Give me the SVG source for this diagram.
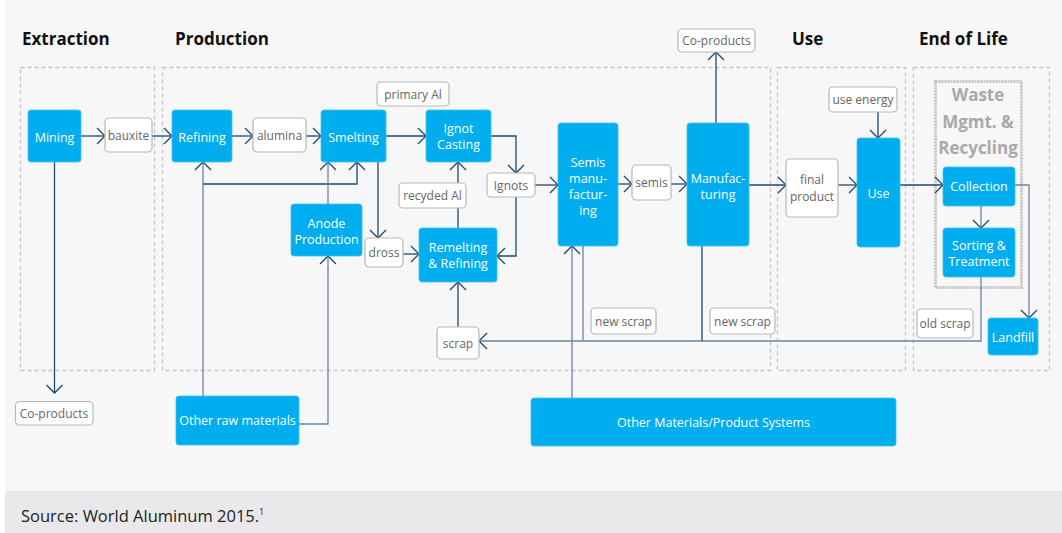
<svg xmlns="http://www.w3.org/2000/svg" width="1062" height="533" viewBox="0 0 1062 533">
<defs>
<marker id="a" viewBox="0 0 10 18" markerWidth="10" markerHeight="18" refX="9" refY="9" orient="auto" markerUnits="userSpaceOnUse">
<path d="M1,1 L9,9 L1,17" fill="none" stroke="#1e4a70" stroke-width="1.3"/>
</marker>
<style>
.hd{font-family:"Open Sans","Liberation Sans",sans-serif;font-weight:700;font-size:17px;fill:#111}
.zone{fill:none;stroke:#c5c5c5;stroke-width:1.3;stroke-dasharray:4 3}
.node rect{fill:#00aeef;stroke:#3cc0f0;stroke-width:0.8}
.node text{font-family:"Open Sans","Liberation Sans",sans-serif;font-size:12.5px;fill:#fff;text-anchor:middle}
.lbl rect{fill:#fff;stroke:#b8b8b8;stroke-width:1.2}
.lbl text{font-family:"Open Sans","Liberation Sans",sans-serif;font-size:12px;fill:#666;text-anchor:middle}
.c path{fill:none;stroke:#1e4a70;stroke-width:1.3}
.c path.l{stroke:#6a87a3}
</style>
</defs>
<rect x="0" y="0" width="1062" height="533" fill="#ffffff"/>
<rect x="5" y="0" width="1057" height="491" fill="#f7f7f7"/>
<rect x="5" y="491" width="1057" height="42" fill="#e9e9eb"/>
<text x="21" y="522" font-family="Open Sans, Liberation Sans, sans-serif" font-size="16.5" fill="#222">Source: World Aluminum 2015.<tspan font-size="9" dy="-7">1</tspan></text>

<g id="headings">
<text class="hd" x="22" y="45">Extraction</text>
<text class="hd" x="175" y="45">Production</text>
<text class="hd" x="792" y="45">Use</text>
<text class="hd" x="919" y="45">End of Life</text>
</g>

<g id="zones">
<rect class="zone" x="20.5" y="67.5" width="134" height="303"/>
<rect class="zone" x="162.5" y="67.5" width="608" height="303"/>
<rect class="zone" x="777.5" y="67.5" width="128" height="303"/>
<rect class="zone" x="913.5" y="67.5" width="136" height="303"/>
</g>

<g id="waste-mgmt">
<rect x="935.5" y="81.5" width="86" height="206" fill="none" stroke="#c4c4c4" stroke-width="3" stroke-dasharray="2 1"/>
<text font-family="Open Sans, Liberation Sans, sans-serif" font-weight="700" font-size="17" fill="#a9a9a9" text-anchor="middle">
<tspan x="978" y="101">Waste</tspan><tspan x="978" y="128">Mgmt. &amp;</tspan><tspan x="978" y="154">Recycling</tspan></text>
</g>

<g class="c" id="connectors">
<path d="M81,136 H105" marker-end="url(#a)"/>
<path d="M152,136 H172" marker-end="url(#a)"/>
<path d="M232,136 H253" marker-end="url(#a)"/>
<path d="M306,136 H321" marker-end="url(#a)"/>
<path d="M386,136 H426" marker-end="url(#a)"/>
<path d="M54.5,162 V393" marker-end="url(#a)"/>
<path d="M491,136 H516 V173" marker-end="url(#a)"/>
<path d="M535,185 H558" marker-end="url(#a)"/>
<path d="M516,197 V256 H497" marker-end="url(#a)"/>
<path d="M458,228 V208"/>
<path d="M458,183 V162" marker-end="url(#a)"/>
<path d="M378,162 V238" marker-end="url(#a)"/>
<path d="M403,254 H419" marker-end="url(#a)"/>
<path d="M458,327 V282" marker-end="url(#a)"/>
<path class="l" d="M981,277 V341 H479" marker-end="url(#a)"/>
<path class="l" d="M583,246 V341"/>
<path d="M702,246 V341"/>
<path class="l" d="M572,398 V246" marker-end="url(#a)"/>
<path d="M618,184 H632" marker-end="url(#a)"/>
<path d="M671,184 H687" marker-end="url(#a)"/>
<path d="M749,185 H786" marker-end="url(#a)"/>
<path d="M838,185 H857" marker-end="url(#a)"/>
<path d="M900,185 H943" marker-end="url(#a)"/>
<path d="M878,112 V138" marker-end="url(#a)"/>
<path d="M716,123 V52" marker-end="url(#a)"/>
<path class="l" d="M981,206 V228" marker-end="url(#a)"/>
<path class="l" d="M1015,185 H1029 V318" marker-end="url(#a)"/>
<path class="l" d="M203,396 V162" marker-end="url(#a)"/>
<path d="M203,184 H357 V162" marker-end="url(#a)"/>
<path class="l" d="M328,204 V162" marker-end="url(#a)"/>
<path class="l" d="M299,424 H328 V256" marker-end="url(#a)"/>
</g>

<g class="node" id="mining"><rect x="28" y="110" width="53" height="52" rx="3"/><text x="54.5" y="141.5">Mining</text></g>
<g class="node" id="refining"><rect x="172" y="110" width="60" height="52" rx="3"/><text x="202" y="141.5">Refining</text></g>
<g class="node" id="smelting"><rect x="321" y="110" width="65" height="52" rx="3"/><text x="353.5" y="141.5">Smelting</text></g>
<g class="node" id="ignot-casting"><rect x="426" y="110" width="65" height="52" rx="3"/><text x="458.5" y="132.5">Ignot</text><text x="458.5" y="148.5">Casting</text></g>
<g class="node" id="anode"><rect x="291" y="204" width="71" height="52" rx="3"/><text x="326.5" y="227.5">Anode</text><text x="326.5" y="243.5">Production</text></g>
<g class="node" id="remelting"><rect x="419" y="228" width="78" height="54" rx="3"/><text x="458" y="251.5">Remelting</text><text x="458" y="267.5">&amp; Refining</text></g>
<g class="node" id="semis-mfg"><rect x="558" y="123" width="60" height="123" rx="3"/><text x="588" y="166.5">Semis</text><text x="588" y="182.5">manu-</text><text x="588" y="198.5">factur-</text><text x="588" y="214.5">ing</text></g>
<g class="node" id="manufacturing"><rect x="687" y="123" width="62" height="123" rx="3"/><text x="718" y="182.5">Manufac-</text><text x="718" y="198.5">turing</text></g>
<g class="node" id="use"><rect x="857" y="138" width="43" height="109" rx="3"/><text x="878.5" y="197.5">Use</text></g>
<g class="node" id="collection"><rect x="943" y="167" width="72" height="39" rx="3"/><text x="979" y="191">Collection</text></g>
<g class="node" id="sorting"><rect x="943" y="228" width="72" height="49" rx="3"/><text x="979" y="249.5">Sorting &amp;</text><text x="979" y="266">Treatment</text></g>
<g class="node" id="landfill"><rect x="988" y="318" width="50" height="37" rx="3"/><text x="1013" y="341.5">Landfill</text></g>
<g class="node" id="other-raw"><rect x="176" y="396" width="123" height="49" rx="3"/><text x="237.5" y="425">Other raw materials</text></g>
<g class="node" id="other-systems"><rect x="531" y="398" width="365" height="48" rx="3"/><text x="713.5" y="426.5">Other Materials/Product Systems</text></g>

<g class="lbl" id="bauxite"><rect x="105" y="118" width="47" height="34" rx="4"/><text x="128.5" y="139.5">bauxite</text></g>
<g class="lbl" id="alumina"><rect x="253" y="118" width="53" height="34" rx="4"/><text x="279.5" y="139.5">alumina</text></g>
<g class="lbl" id="primary-al"><rect x="377" y="82" width="72" height="24" rx="4"/><text x="413" y="98.5">primary Al</text></g>
<g class="lbl" id="coproducts-top"><rect x="678" y="29" width="77" height="23" rx="4"/><text x="716.5" y="45">Co-products</text></g>
<g class="lbl" id="ignots"><rect x="487" y="173" width="48" height="24" rx="4"/><text x="511" y="189.5">Ignots</text></g>
<g class="lbl" id="recycled-al"><rect x="399" y="183" width="67" height="25" rx="4"/><text x="432.5" y="200">recyded Al</text></g>
<g class="lbl" id="dross"><rect x="365" y="238" width="38" height="29" rx="4"/><text x="384" y="257">dross</text></g>
<g class="lbl" id="scrap"><rect x="437" y="327" width="42" height="32" rx="4"/><text x="458" y="347.5">scrap</text></g>
<g class="lbl" id="semis"><rect x="632" y="165" width="39" height="35" rx="4"/><text x="651.5" y="187">semis</text></g>
<g class="lbl" id="new-scrap-1"><rect x="591" y="308" width="65" height="26" rx="4"/><text x="623.5" y="325.5">new scrap</text></g>
<g class="lbl" id="new-scrap-2"><rect x="710" y="308" width="65" height="26" rx="4"/><text x="742.5" y="325.5">new scrap</text></g>
<g class="lbl" id="final-product"><rect x="786" y="159" width="52" height="58" rx="4"/><text x="812" y="184">final</text><text x="812" y="201">product</text></g>
<g class="lbl" id="use-energy"><rect x="829" y="87" width="68" height="25" rx="4"/><text x="863" y="104">use energy</text></g>
<g class="lbl" id="old-scrap"><rect x="917" y="309" width="56" height="29" rx="4"/><text x="945" y="328">old scrap</text></g>
<g class="lbl" id="coproducts-bottom"><rect x="15.5" y="401.5" width="77.5" height="23.5" rx="4"/><text x="54" y="417.5">Co-products</text></g>
</svg>
